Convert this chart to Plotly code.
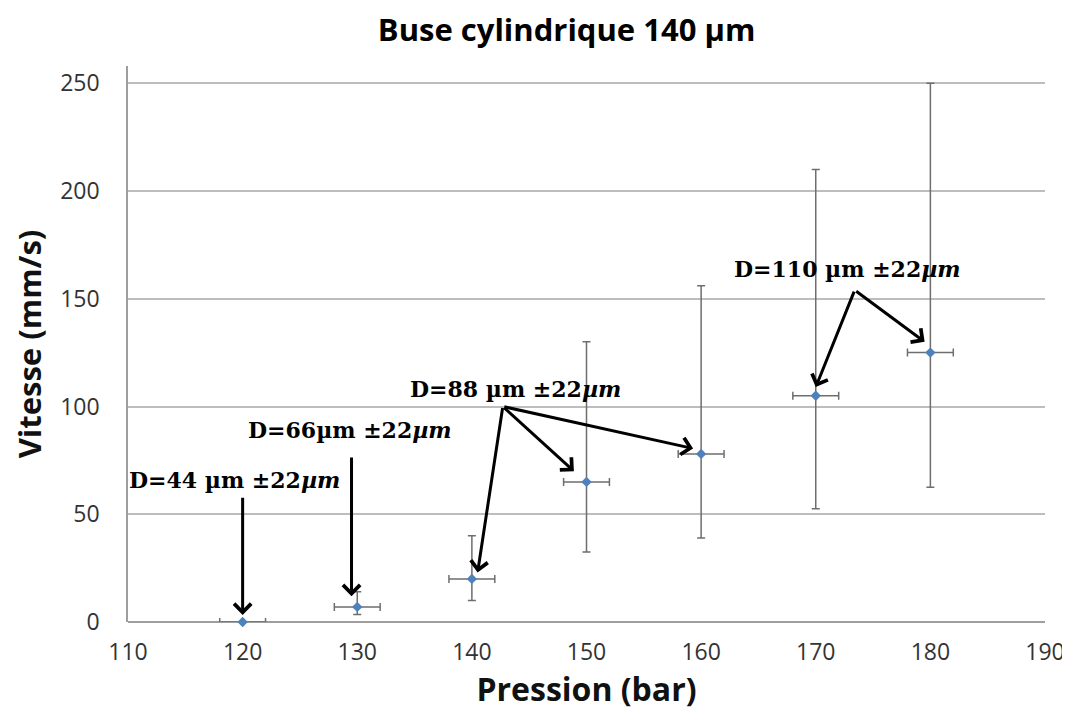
import plotly.graph_objects as go

# data
pression = [120, 130, 140, 150, 160, 170, 180]
vitesse = [0, 7, 20, 65, 78, 105, 125]
err_plus = [0, 7, 20, 65, 78, 105, 125]
err_minus = [0, 3.5, 10, 32.5, 39, 52.5, 62.5]
err_x = [2, 2, 2, 2, 2, 2, 2]

# labels: text, x, y
labels = ["<b>D=44 µm ±22<i>µm</i></b>", "<b>D=66µm ±22<i>µm</i></b>",
          "<b>D=88 µm ±22<i>µm</i></b>", "<b>D=110 µm ±22<i>µm</i></b>"]
label_x = [119.3, 129.4, 143.8, 172.8]
label_y = [66, 89, 108, 164]

# arrows: tail (x0,y0) -> head (x1,y1)
arr_x0 = [120, 129.5, 142.7, 142.7, 142.7, 173.4, 173.4]
arr_y0 = [58.4, 77, 100, 100, 100, 154, 154]
arr_x1 = [120, 129.5, 140.5, 148.9, 159.3, 170, 179.5]
arr_y1 = [3.3, 12, 23, 70, 80.5, 109, 130]

fig = go.Figure()
fig.add_trace(go.Scatter(
    x=pression, y=vitesse, mode="markers",
    marker=dict(symbol="diamond", size=8, color="#4f81bd"),
    error_y=dict(type="data", symmetric=False, array=err_plus, arrayminus=err_minus,
                 color="#6e6e6e", thickness=1.5, width=4),
    error_x=dict(type="data", array=err_x, color="#6e6e6e", thickness=1.5, width=4),
    cliponaxis=False, showlegend=False))

for t, x, y in zip(labels, label_x, label_y):
    fig.add_annotation(x=x, y=y, text=t, showarrow=False,
                       font=dict(family="DejaVu Serif", size=22, color="black"))

for x0, y0, x1, y1 in zip(arr_x0, arr_y0, arr_x1, arr_y1):
    fig.add_annotation(x=x1, y=y1, ax=x0, ay=y0, axref="x", ayref="y",
                       xref="x", yref="y", text="", showarrow=True,
                       arrowhead=4, arrowsize=1.1, arrowwidth=3, arrowcolor="black")

# page body has an 8px margin, so the figure is a bit smaller than the window
fig.update_layout(
    width=1062, height=705,
    paper_bgcolor="white", plot_bgcolor="white",
    margin=dict(l=120, r=25, t=58, b=91),
    title=dict(text="<b>Buse cylindrique 140 µm</b>", x=0.526, xanchor="center",
               y=0.968, yanchor="middle",
               font=dict(family="Open Sans", size=31, color="black")),
    font=dict(family="Open Sans", color="#333"),
)
fig.update_xaxes(range=[110, 190], tickvals=[110, 120, 130, 140, 150, 160, 170, 180, 190],
                 showgrid=False, zeroline=False, showline=False, automargin=False,
                 tickfont=dict(size=23, color="#333"), ticks="", ticklabelstandoff=14,
                 title=dict(text="<b>Pression (bar)</b>", font=dict(size=32, color="#111"),
                            standoff=6))
fig.update_yaxes(range=[0, 258], tickvals=[0, 50, 100, 150, 200, 250],
                 showgrid=True, gridcolor="#bdbdbd", gridwidth=1.5,
                 zeroline=True, zerolinecolor="#9e9e9e", zerolinewidth=1.5,
                 showline=True, linecolor="#9e9e9e", linewidth=1.5, automargin=False,
                 tickfont=dict(size=23, color="#333"), ticks="", ticklabelstandoff=22,
                 title=dict(text="<b>Vitesse (mm/s)</b>", font=dict(size=31, color="#111"),
                            standoff=12))

fig.write_html("out.html")
